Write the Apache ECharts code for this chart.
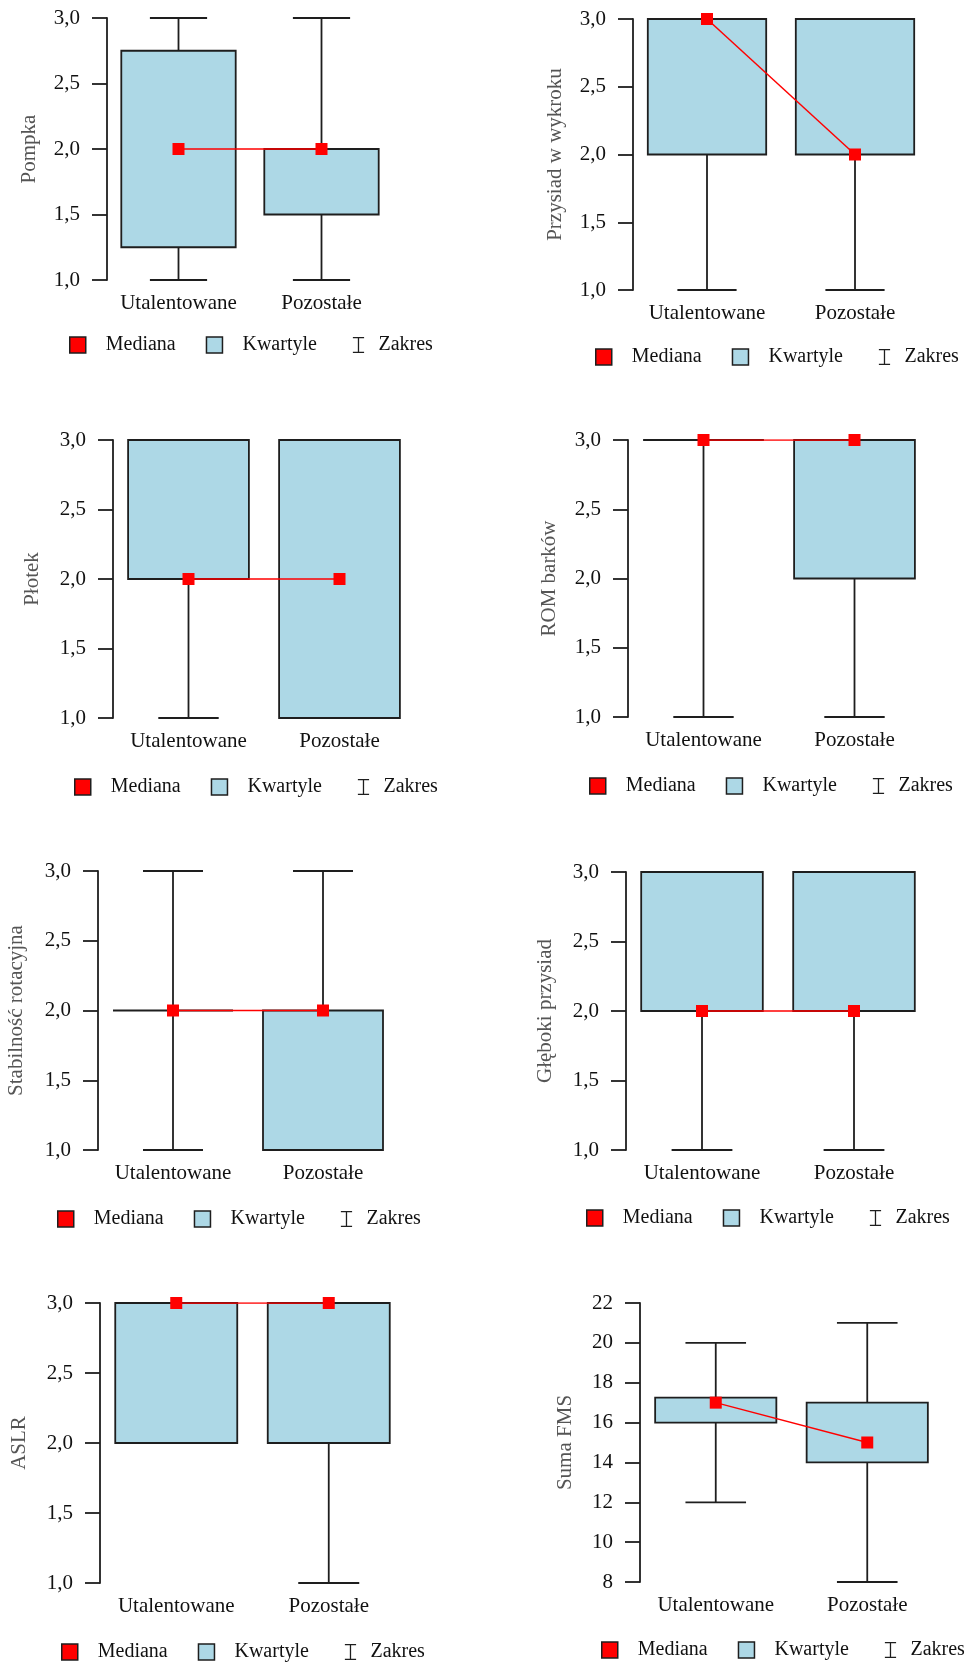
<!DOCTYPE html>
<html>
<head>
<meta charset="utf-8">
<script src="https://cdn.jsdelivr.net/npm/echarts@6/dist/echarts.min.js"></script>
<style>
html,body{margin:0;padding:0;background:#fff;}
#chart{width:976px;height:1666px;}
</style>
</head>
<body>
<div id="chart"></div>
<script>
// ---------- DATA ----------
const categories = ['Utalentowane', 'Pozostałe'];
const yTitles = ['Pompka', 'Przysiad w wykroku', 'Płotek', 'ROM barków',
                 'Stabilność rotacyjna', 'Głęboki przysiad', 'ASLR', 'Suma FMS'];
const legendNames = ['Mediana', 'Kwartyle', 'Zakres'];
// each group: [min, Q1, median, Q3, max]
const pompka     = [[1, 1.25, 2, 2.75, 3], [1, 1.5, 2, 2, 3]];
const przysiad   = [[1, 2, 3, 3, 3],       [1, 2, 2, 3, 3]];
const plotek     = [[1, 2, 2, 3, 3],       [1, 1, 2, 3, 3]];
const romBarkow  = [[1, 3, 3, 3, 3],       [1, 2, 3, 3, 3]];
const stabilnosc = [[1, 2, 2, 2, 3],       [1, 1, 2, 2, 3]];
const glebokiPrz = [[1, 2, 2, 3, 3],       [1, 2, 2, 3, 3]];
const aslr       = [[2, 2, 3, 3, 3],       [1, 2, 3, 3, 3]];
const sumaFMS    = [[12, 16, 17, 17.25, 20], [8, 14, 15, 17, 21]];
// tick labels
const scoreTicks = [1.0, 1.5, 2.0, 2.5, 3.0];
const sumTicks   = [8, 10, 12, 14, 16, 18, 20, 22];

const panelStats = [pompka, przysiad, plotek, romBarkow, stabilnosc, glebokiPrz, aslr, sumaFMS];
const panelTicks = [scoreTicks, scoreTicks, scoreTicks, scoreTicks, scoreTicks, scoreTicks, scoreTicks, sumTicks];

// ---------- LAYOUT ----------
const layout = [
  {left: 107, top: 18,   width: 286, height: 262, gap: 67, lx: 69,  ly: 343},
  {left: 633, top: 19,   width: 296, height: 271, gap: 67, lx: 595, ly: 355},
  {left: 113, top: 440,  width: 302, height: 278, gap: 70, lx: 74,  ly: 785},
  {left: 628, top: 440,  width: 302, height: 277, gap: 68, lx: 589, ly: 784},
  {left: 98,  top: 871,  width: 300, height: 279, gap: 71, lx: 57,  ly: 1217},
  {left: 626, top: 872,  width: 304, height: 278, gap: 70, lx: 586, ly: 1216},
  {left: 100, top: 1303, width: 305, height: 280, gap: 70, lx: 61,  ly: 1650},
  {left: 640, top: 1303, width: 303, height: 279, gap: 64, lx: 601, ly: 1648}
];

const FONT = '"Liberation Serif", "Times New Roman", serif';
const INK = '#1e1e1e';
const BOX_FILL = '#add8e6';
const RED = '#ff0000';
const LW = 1.8;

function fmtScore(v) { return v.toFixed(1).replace('.', ','); }
function fmtSum(v) { return String(v); }

const grids = [], xAxes = [], yAxes = [], series = [], legends = [];

panelStats.forEach(function (stats, i) {
  const L = layout[i];
  const ticks = panelTicks[i];
  const isSum = ticks === sumTicks;
  grids.push({left: L.left, top: L.top, width: L.width, height: L.height});
  xAxes.push({
    type: 'category', gridIndex: i, data: categories,
    axisLine: {show: false}, axisTick: {show: false},
    axisLabel: {interval: 0, hideOverlap: false, margin: 13, fontSize: 21, color: '#111', fontFamily: FONT}
  });
  yAxes.push({
    type: 'value', gridIndex: i,
    min: ticks[0], max: ticks[ticks.length - 1], interval: ticks[1] - ticks[0],
    splitLine: {show: false},
    axisLine: {show: true, lineStyle: {color: INK, width: LW}},
    axisTick: {show: true, inside: false, length: 15, lineStyle: {color: INK, width: LW}},
    axisLabel: {margin: 27, fontSize: 21, color: '#111', fontFamily: FONT,
                formatter: isSum ? fmtSum : fmtScore},
    name: yTitles[i], nameLocation: 'middle', nameGap: L.gap,
    nameTextStyle: {fontSize: 21, color: '#555', fontFamily: FONT}
  });
  const data = stats.map(function (s, k) { return [k].concat(s); });
  // whiskers (range)
  series.push({
    name: 'Zakres', type: 'custom', xAxisIndex: i, yAxisIndex: i, z: 2,
    encode: {x: 0, y: [1, 2, 3, 4, 5]},
    data: data,
    itemStyle: {color: INK},
    renderItem: function (params, api) {
      const c = api.value(0);
      const pMin = api.coord([c, api.value(1)]);
      const pQ1 = api.coord([c, api.value(2)]);
      const pQ3 = api.coord([c, api.value(4)]);
      const pMax = api.coord([c, api.value(5)]);
      const band = api.size([1, 0])[0];
      const cw = band * 0.4;
      const x = pMin[0];
      const st = {stroke: INK, lineWidth: LW};
      return {type: 'group', children: [
        {type: 'line', shape: {x1: x, y1: pQ3[1], x2: x, y2: pMax[1]}, style: st},
        {type: 'line', shape: {x1: x, y1: pQ1[1], x2: x, y2: pMin[1]}, style: st},
        {type: 'line', shape: {x1: x - cw / 2, y1: pMax[1], x2: x + cw / 2, y2: pMax[1]}, style: st},
        {type: 'line', shape: {x1: x - cw / 2, y1: pMin[1], x2: x + cw / 2, y2: pMin[1]}, style: st}
      ]};
    }
  });
  // boxes (quartiles)
  series.push({
    name: 'Kwartyle', type: 'custom', xAxisIndex: i, yAxisIndex: i, z: 3,
    encode: {x: 0, y: [2, 4]},
    data: data,
    itemStyle: {color: BOX_FILL},
    renderItem: function (params, api) {
      const c = api.value(0);
      const pQ1 = api.coord([c, api.value(2)]);
      const pQ3 = api.coord([c, api.value(4)]);
      const band = api.size([1, 0])[0];
      const w = band * 0.8;
      return {type: 'rect',
        shape: {x: pQ1[0] - w / 2, y: pQ3[1], width: w, height: pQ1[1] - pQ3[1]},
        style: {fill: BOX_FILL, stroke: INK, lineWidth: LW}};
    }
  });
  // medians
  series.push({
    name: 'Mediana', type: 'line', xAxisIndex: i, yAxisIndex: i, z: 5,
    data: stats.map(function (s) { return s[2]; }),
    symbol: 'rect', symbolSize: 12, showSymbol: true,
    itemStyle: {color: RED},
    lineStyle: {color: RED, width: 1.5},
    emphasis: {disabled: true}, animation: false
  });
  legends.push({
    left: L.lx, top: L.ly - 8, orient: 'horizontal', padding: 0,
    itemWidth: 16, itemHeight: 16, itemGap: 30, selectedMode: false,
    data: [
      {name: 'Mediana', icon: 'rect', itemStyle: {color: RED, borderColor: INK, borderWidth: 1.5}},
      {name: 'Kwartyle', icon: 'rect', itemStyle: {color: BOX_FILL, borderColor: INK, borderWidth: 1.5}},
      {name: 'Zakres', icon: 'path://M0,0H14V1.6H7.8V18.4H14V20H0V18.4H6.2V1.6H0Z', itemStyle: {color: INK, borderWidth: 0}}
    ],
    formatter: function (n) {
      return n === 'Mediana' ? '{m|' + n + '}' : (n === 'Kwartyle' ? '{k|' + n + '}' : '{z|' + n + '}');
    },
    textStyle: {fontFamily: FONT, fontSize: 20, color: '#111', lineHeight: 16,
      rich: {
        m: {fontFamily: FONT, fontSize: 20, color: '#111', padding: [0, 0, 0, 15], lineHeight: 16},
        k: {fontFamily: FONT, fontSize: 20, color: '#111', padding: [0, 6, 0, 15], lineHeight: 16},
        z: {fontFamily: FONT, fontSize: 20, color: '#111', padding: [0, 0, 0, 7], lineHeight: 16}
      }}
  });
});

const chart = echarts.init(document.getElementById('chart'), null, {renderer: 'canvas'});
chart.setOption({
  animation: false,
  backgroundColor: '#ffffff',
  grid: grids, xAxis: xAxes, yAxis: yAxes, series: series, legend: legends
});
</script>
</body>
</html>
